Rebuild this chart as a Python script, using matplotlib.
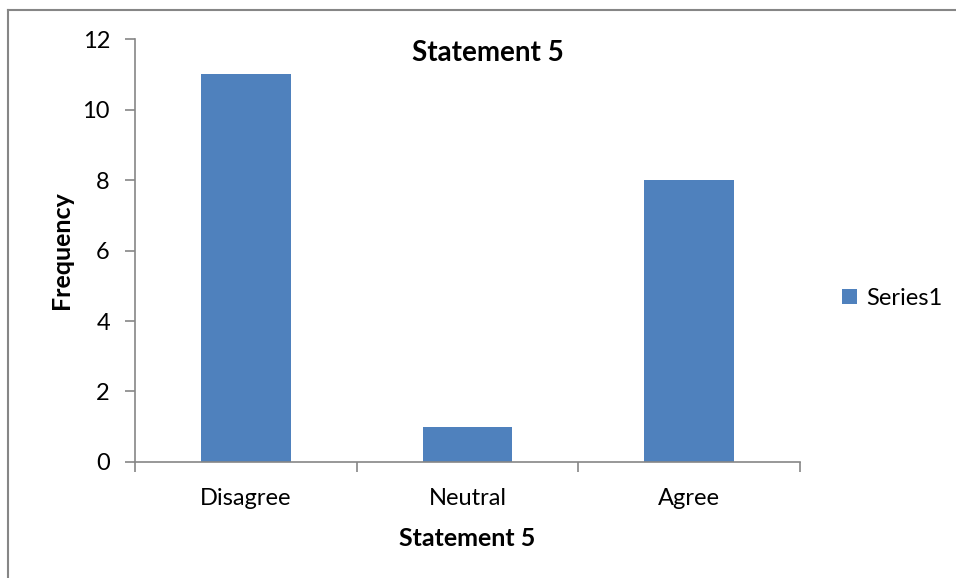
import numpy as np
from matplotlib import pyplot as plt
from matplotlib.lines import Line2D
from matplotlib.patches import Patch

categories = ['Disagree', 'Neutral', 'Agree']
frequency = [11, 1, 8]
y_ticks = [0, 2, 4, 6, 8, 10, 12]

plt.rcParams['font.family'] = ['Lato', 'DejaVu Sans']
axis_grey = '#868686'
bar_blue = '#4F81BD'

fig = plt.figure(figsize=(9.56, 5.78), dpi=100)
ax = fig.add_axes([0.1412, 0.2007, 0.6956, 0.7318])

x = np.arange(len(categories))
ax.bar(x, frequency, width=0.405, color=bar_blue, label='Series1')

ax.set_xlim(-0.5, len(categories) - 0.5)
ax.set_ylim(0, 12)
ax.set_yticks(y_ticks)
ax.set_xticks(x)
ax.set_xticklabels(categories, fontsize=17)
ax.set_xticks(np.arange(len(categories) + 1) - 0.5, minor=True)
ax.tick_params(axis='x', which='major', length=0, pad=19)
ax.tick_params(axis='x', which='minor', length=7, color=axis_grey, width=1.2, direction='out')
ax.tick_params(axis='y', length=7, color=axis_grey, width=1.2, labelsize=17, pad=11)

for side in ['top', 'right']:
    ax.spines[side].set_visible(False)
for side in ['left', 'bottom']:
    ax.spines[side].set_color(axis_grey)
    ax.spines[side].set_linewidth(1.2)

fig.text(488 / 956, 1 - 53 / 578, 'Statement 5', fontsize=20, fontweight='bold',
         ha='center', va='center')
ax.set_xlabel('Statement 5', fontsize=18, fontweight='bold', labelpad=13)
ax.set_ylabel('Frequency', fontsize=18, fontweight='bold', labelpad=7)

handles = [Patch(facecolor=bar_blue, label='Series1')]
fig.legend(handles=handles, loc='center left', bbox_to_anchor=(0.859, 0.484),
           frameon=False, fontsize=17, handlelength=0.6, handleheight=0.6,
           handletextpad=0.4)

# chart frame: only the left and top edges fall inside the canvas
fig.add_artist(Line2D([8 / 956, 8 / 956], [0, 1 - 10 / 578], transform=fig.transFigure,
                      color=axis_grey, linewidth=1.5))
fig.add_artist(Line2D([8 / 956, 1], [1 - 10 / 578, 1 - 10 / 578], transform=fig.transFigure,
                      color=axis_grey, linewidth=1.5))

fig.savefig('out.png', dpi=100)
